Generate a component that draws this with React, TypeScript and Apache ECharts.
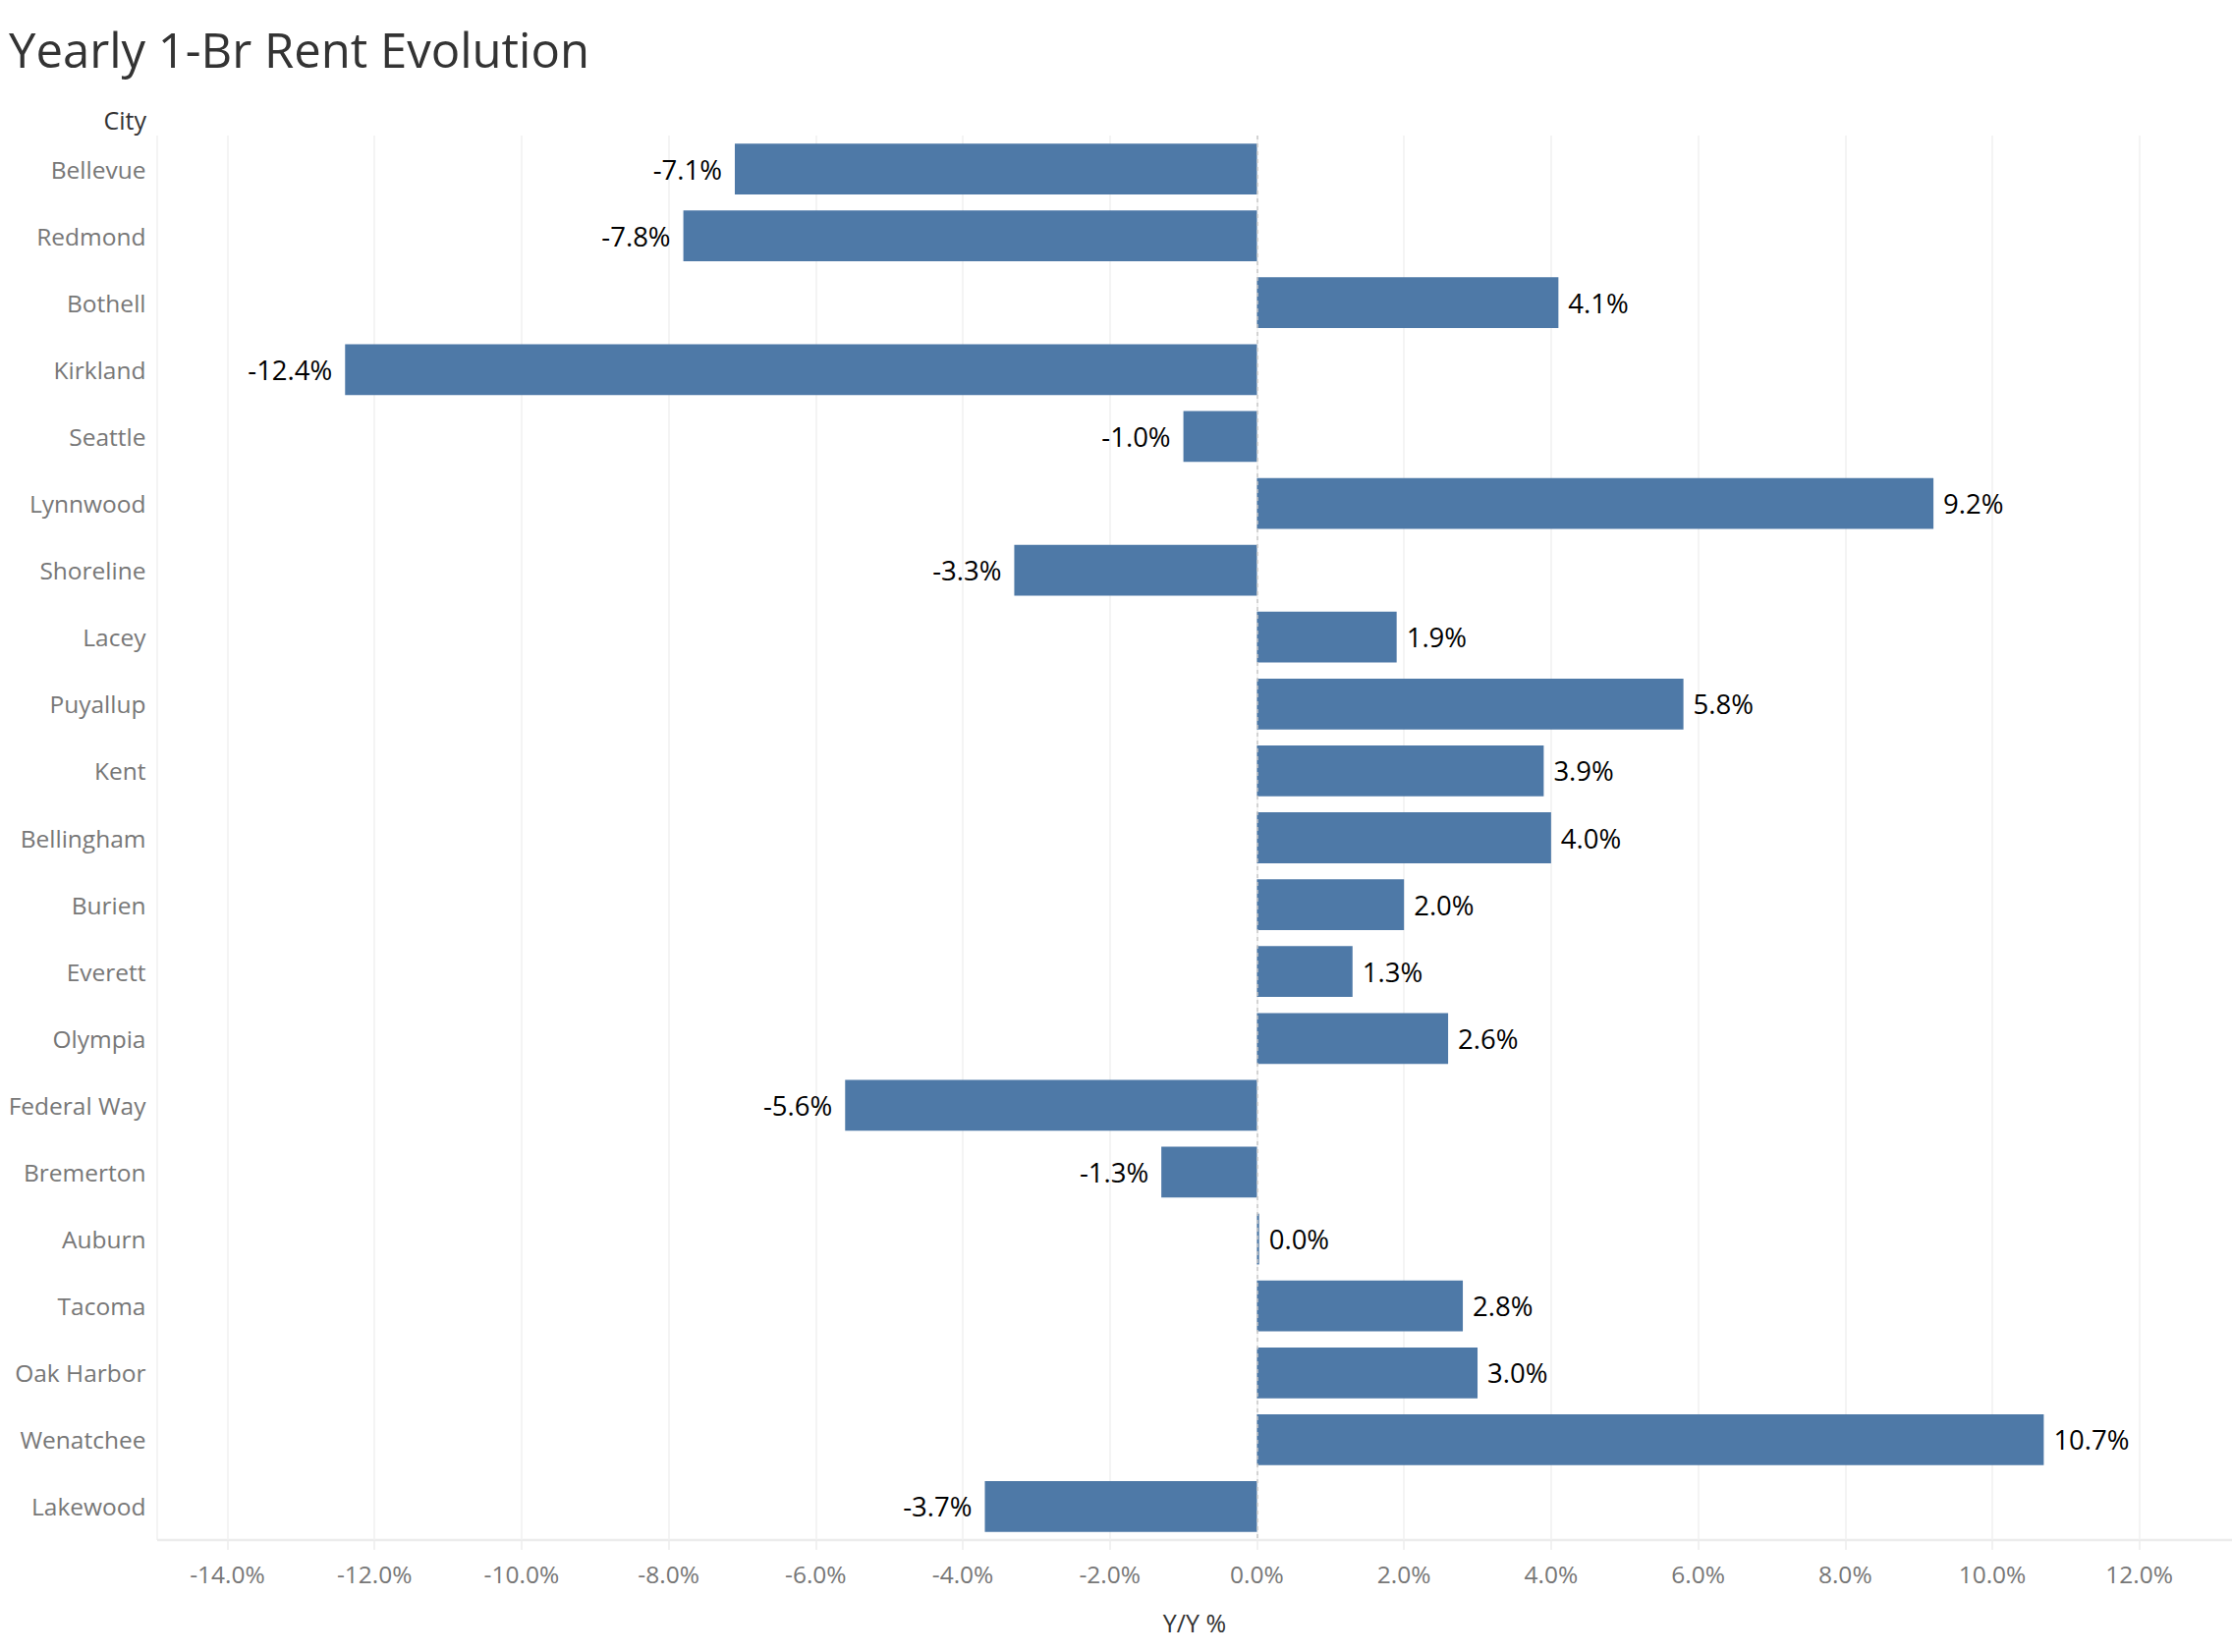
import React, { useEffect, useRef } from "react";
import * as echarts from "echarts";

const cities = [
  "Bellevue", "Redmond", "Bothell", "Kirkland", "Seattle", "Lynnwood", "Shoreline",
  "Lacey", "Puyallup", "Kent", "Bellingham", "Burien", "Everett", "Olympia",
  "Federal Way", "Bremerton", "Auburn", "Tacoma", "Oak Harbor", "Wenatchee", "Lakewood",
];
const yoyValues = [
  -7.1, -7.8, 4.1, -12.4, -1.0, 9.2, -3.3,
  1.9, 5.8, 3.9, 4.0, 2.0, 1.3, 2.6,
  -5.6, -1.3, 0.03, 2.8, 3.0, 10.7, -3.7,
];
const axisMin = -14;
const axisMax = 12;
const axisStep = 2;
const titleText = "Yearly 1-Br Rent Evolution";
const rowHeader = "City";
const axisTitle = "Y/Y %";

const FONT = "'Open Sans', 'Noto Sans', sans-serif";

export default function App() {
  const ref = useRef<HTMLDivElement>(null);
  useEffect(() => {
    if (!ref.current) return;
    const chart = echarts.init(ref.current, null, { renderer: "svg" });
    const W = 2272;
    const H = 1682;
    const gridLeft = 231.5;
    const gridRight = 94.3;
    const gridTop = 138;
    const gridBottom = 114;
    const axisY = H - gridBottom;
    chart.setOption({
      animation: false,
      backgroundColor: "#ffffff",
      textStyle: { fontFamily: FONT },
      grid: { left: gridLeft, right: gridRight, top: gridTop, bottom: gridBottom, containLabel: false },
      xAxis: {
        type: "value",
        min: axisMin,
        max: axisMax,
        interval: axisStep,
        axisLine: { show: false },
        axisTick: { show: true, length: 10, lineStyle: { color: "#ececec", width: 1.5 } },
        axisLabel: {
          color: "#777777",
          fontSize: 24.5,
          fontFamily: FONT,
          margin: 22,
          formatter: (v: number) => v.toFixed(1) + "%",
        },
        splitLine: { show: true, lineStyle: { color: "#f0f0f0", width: 1.5 } },
      },
      yAxis: {
        type: "category",
        inverse: true,
        data: cities,
        axisLine: { show: false },
        axisTick: { show: false },
        splitLine: { show: false },
        axisLabel: { color: "#777777", fontSize: 24.5, fontFamily: FONT, margin: 83 },
      },
      series: [
        {
          type: "bar",
          barCategoryGap: "24%",
          itemStyle: { color: "#4e79a7" },
          data: yoyValues.map((v) => ({
            value: v,
            label: {
              show: true,
              position: v < 0 ? "left" : "right",
              distance: v < 0 ? 13 : 10,
              color: "#000000",
              fontSize: 27.5,
              fontFamily: FONT,
              formatter: () => v.toFixed(1) + "%",
            },
          })),
          markLine: {
            silent: true,
            symbol: "none",
            label: { show: false },
            lineStyle: { color: "#c8c8c8", type: [4, 4], width: 1.5 },
            data: [{ xAxis: 0 }],
          },
        },
      ],
      graphic: [
        {
          type: "text",
          x: 9,
          y: 50,
          style: { text: titleText, fill: "#333333", font: `49px ${FONT}`, textVerticalAlign: "middle" },
        },
        {
          type: "text",
          x: 149,
          y: 122,
          style: { text: rowHeader, fill: "#333333", font: `25px ${FONT}`, textAlign: "right", textVerticalAlign: "middle" },
        },
        {
          type: "text",
          x: (160 + W) / 2,
          y: 1652,
          style: { text: axisTitle, fill: "#333333", font: `25px ${FONT}`, textAlign: "center", textVerticalAlign: "middle" },
        },
        {
          type: "line",
          shape: { x1: 160, y1: gridTop, x2: 160, y2: axisY },
          style: { stroke: "#f0f0f0", lineWidth: 1.5 },
        },
        {
          type: "line",
          shape: { x1: 160, y1: axisY, x2: W, y2: axisY },
          style: { stroke: "#ececec", lineWidth: 2.5 },
        },
      ],
    });
    return () => chart.dispose();
  }, []);
  return (
    <div
      ref={ref}
      style={{ position: "fixed", left: 0, top: 0, width: 2272, height: 1682, background: "#fff" }}
    />
  );
}
